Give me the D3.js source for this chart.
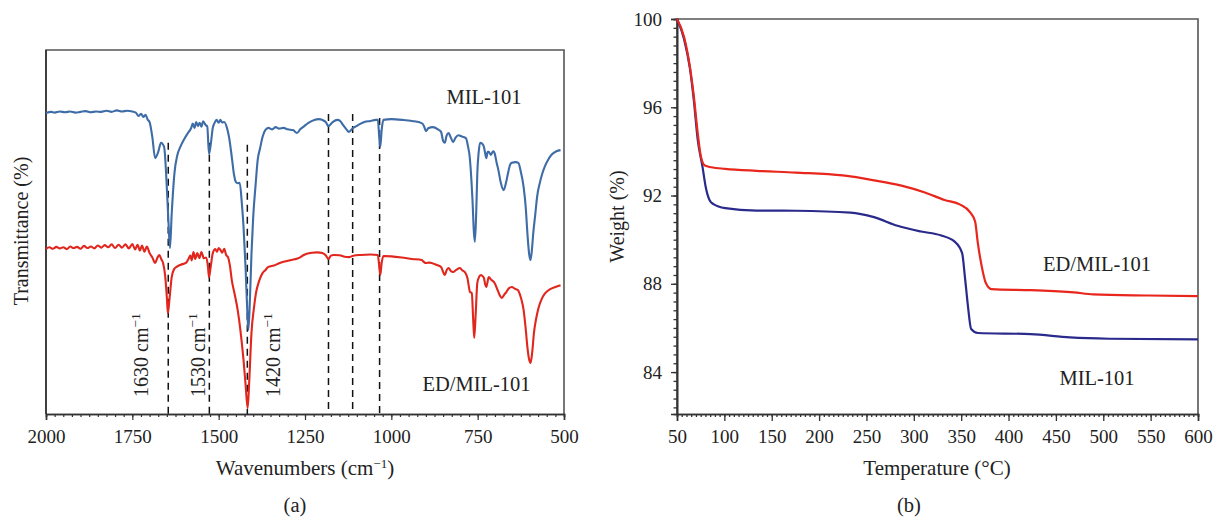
<!DOCTYPE html>
<html><head><meta charset="utf-8">
<script src="https://cdn.jsdelivr.net/npm/d3@7"></script>
<style>body{margin:0;background:#fff}svg{display:block}text{font-family:"Liberation Serif","Times New Roman",serif;fill:#222}</style>
</head><body><svg id="c" width="1215" height="517"></svg>
<script>
// ---------- DATA ----------
// FTIR (a): [wavenumber cm-1, transmittance (a.u.)]
const irMIL = [[2000,82.7],[1985,83.0],[1975,82.8],[1960,83.1],[1945,82.9],[1930,83.1],[1915,82.8],[1900,83.0],[1885,83.2],[1870,82.9],[1855,83.1],[1840,83.0],[1825,83.3],[1810,83.0],[1795,83.4],[1780,83.1],[1765,83.3],[1750,83.1],[1740,82.8],[1732,81.9],[1725,82.5],[1718,81.6],[1712,82.2],[1705,80.8],[1700,80.2],[1692,76],[1684,70.3],[1675,72],[1667,74.5],[1658,73.4],[1650,62],[1645,52],[1641,45.6],[1636,55],[1628,66.2],[1620,71],[1611,73.4],[1600,75.5],[1589,77.2],[1580,78.5],[1575,79.8],[1570,78.6],[1565,80.2],[1560,79.1],[1555,80.0],[1550,78.9],[1545,80.4],[1538,79.4],[1533,79.0],[1528,71.4],[1523,74],[1517,78.6],[1510,80.3],[1506,80.8],[1500,80.0],[1495,80.8],[1490,80.1],[1484,80.2],[1476,78.6],[1470,76.1],[1462,70.6],[1456,66],[1450,63.7],[1445,63.4],[1439,63.5],[1433,58],[1428,51.4],[1422,40],[1417,28],[1414,23.1],[1410,30],[1405,44],[1400,54.1],[1393,63],[1387,69.8],[1380,73],[1373,76.1],[1365,78],[1356,78.6],[1345,78.2],[1335,78.8],[1325,78.4],[1312,78.6],[1300,78.2],[1285,78.0],[1273,77.2],[1264,78.2],[1256,78.8],[1240,80.0],[1223,80.8],[1210,81.0],[1200,80.8],[1190,80.2],[1182,79.1],[1170,80.2],[1156,80.8],[1148,80.5],[1140,79.4],[1130,78.2],[1123,77.5],[1112,78.5],[1101,79.1],[1090,79.7],[1078,80.2],[1060,80.5],[1045,80.8],[1039,80.8],[1035,76],[1032,73.4],[1028,78],[1023,80.8],[1000,81.0],[967,80.8],[940,80.5],[912,79.9],[905,79],[900,77.7],[893,78.5],[880,78.8],[865,78.2],[856,77.5],[850,75],[845,74.5],[840,76.5],[834,77.2],[828,76],[821,74.7],[814,75.9],[806,76.6],[795,76.2],[784,75.8],[778,73.5],[773,70.6],[768,64],[765,58.8],[761,50],[758,47.3],[754,56],[751,66.2],[747,72],[743,74.5],[737,74.3],[732,73.4],[728,71.5],[725,70.3],[721,72],[718,72.0],[712,71.2],[705,72.2],[701,71.7],[695,69],[690,67.0],[683,63.5],[675,61.5],[668,63.5],[662,66.2],[656,68.5],[651,69.0],[640,69.2],[632,69.0],[625,66.5],[617,62.4],[611,57],[606,49.7],[601,44],[597,42.3],[593,45],[589,49.7],[583,55],[578,59.6],[570,63.5],[563,66],[556,67.9],[545,70.0],[534,71.4],[522,72.2],[510,72.5]];
const irED = [[2000,45.4],[1990,45.8],[1980,45.4],[1970,45.9],[1960,45.5],[1950,45.8],[1940,45.3],[1930,46.0],[1920,45.6],[1910,45.9],[1900,45.4],[1890,46.2],[1880,45.6],[1870,46.0],[1860,45.5],[1850,46.3],[1840,45.7],[1830,46.4],[1820,45.8],[1810,46.6],[1800,45.6],[1790,46.5],[1780,45.7],[1770,46.6],[1760,45.5],[1750,46.7],[1742,45.2],[1735,46.5],[1728,44.9],[1722,46.3],[1715,44.6],[1708,46.0],[1700,44.2],[1692,43.0],[1684,41.5],[1678,42.8],[1672,43.7],[1666,42.5],[1661,41.5],[1655,38],[1650,32],[1647,27.7],[1642,32],[1636,37.6],[1629,39.8],[1622,40.4],[1610,41.0],[1595,41.5],[1588,42.5],[1582,43.5],[1578,42.2],[1573,44.5],[1568,42.6],[1562,44.2],[1556,42.8],[1550,44.5],[1543,42.8],[1536,43.0],[1531,40.5],[1528,37.6],[1523,40.5],[1517,44.2],[1510,45.3],[1505,44.6],[1500,45.6],[1495,45.1],[1490,44.3],[1484,45.4],[1478,43.6],[1473,43.1],[1467,40.5],[1462,36.8],[1455,33.5],[1445,28.6],[1437,23],[1428,14.8],[1422,8],[1416,1.6],[1411,10],[1405,22.3],[1398,29],[1392,33.2],[1383,36.5],[1373,38.7],[1365,39.5],[1356,40.4],[1340,40.8],[1325,41.4],[1312,41.8],[1295,42.2],[1280,42.5],[1267,42.9],[1255,43.6],[1245,44.0],[1230,44.3],[1215,44.4],[1200,44.2],[1190,43.6],[1182,42.6],[1175,43.5],[1167,43.7],[1150,43.6],[1135,43.2],[1123,43.1],[1110,43.5],[1089,43.7],[1060,43.8],[1039,43.7],[1035,40.5],[1032,38.2],[1028,41.5],[1023,43.4],[1000,43.3],[970,43.0],[940,42.6],[912,42.3],[905,41.7],[900,41.5],[890,41.6],[870,41.0],[856,40.4],[850,39],[845,38.2],[840,39.5],[834,40.1],[828,39.3],[821,39.0],[812,39.6],[801,40.1],[795,39.5],[787,39.0],[780,37.5],[772,33.5],[767,33.2],[763,26],[760,20.9],[756,27],[751,36.0],[745,37.8],[740,38.2],[735,37.8],[732,37.4],[728,35.5],[725,34.9],[721,36.5],[718,37.6],[710,36.8],[701,36.0],[692,34],[685,32.4],[680,31.9],[673,32.8],[667,33.5],[660,34.5],[651,34.9],[642,34.4],[634,34.1],[625,32],[617,28.6],[611,23.5],[606,18.4],[601,15],[597,14.0],[592,17],[587,22.3],[580,26.5],[573,29.4],[565,31.5],[556,33.0],[551,33.5],[540,34.3],[525,34.9],[510,35.4]];
const irTicks = [2000,1750,1500,1250,1000,750,500];
const dashWave = [1646,1527,1417,1182,1112,1034];
const dashTop = [74.5,74.5,74,82.4,82.4,81.3];
const peakLabels = ["1630","1530","1420"];

// TGA (b): [temperature °C, weight %]
const tgaED = [[50,100],[57.4,99.2],[63.6,97.84],[67.8,96.48],[71.9,94.82],[75.2,93.77],[79.4,93.36],[86.4,93.28],[100.9,93.21],[133.9,93.12],[175.3,93.04],[224.9,92.91],[258,92.69],[286.9,92.45],[311.7,92.14],[332.4,91.8],[349,91.59],[359.3,91.25],[364.7,90.82],[367.6,89.84],[371.7,88.79],[375.8,88.06],[382,87.76],[423.4,87.71],[468.9,87.61],[489.5,87.52],[547.4,87.47],[600,87.44]];
const tgaMIL = [[50,100],[57.4,99.1],[63.6,97.77],[67.8,96.3],[71.9,94.52],[76.9,93.31],[80.2,92.41],[84.3,91.8],[88.5,91.61],[100.9,91.43],[133.9,91.32],[175.3,91.31],[233.2,91.23],[258,91.02],[282.8,90.63],[307.6,90.37],[328.3,90.2],[342.8,89.92],[351,89.39],[353.9,88.33],[357.2,86.97],[360.5,85.95],[367.6,85.77],[423.4,85.72],[464.7,85.57],[505.9,85.51],[600,85.48]];
const tgaXTicks = [50,100,150,200,250,300,350,400,450,500,550,600];
const tgaYTicks = [84,88,92,96,100];

// ---------- DRAW ----------
const svg = d3.select("#c");
const FS = 19, FL = 20.5, FT = 21;
const axisCol = "#333", frameCol = "#555";

function frame(x0,x1,y0,y1){
  svg.append("path").attr("d",`M${x0},${y1}L${x0},${y0}L${x1},${y0}L${x1},${y1}`)
    .attr("fill","none").attr("stroke",frameCol).attr("stroke-width",1.6);
}

// ===== Panel (a) =====
const xa = d3.scaleLinear().domain([2000,500]).range([46,564]);
const ya = d3.scaleLinear().domain([0,100]).range([414,50]);
frame(46,564,50,414);
const ga = svg.append("g").attr("transform","translate(0,414)");
ga.call(d3.axisBottom(xa).tickValues(d3.range(500,2001,25)).tickSize(3).tickFormat(""));
ga.append("g").call(d3.axisBottom(xa).tickValues(irTicks).tickSize(6).tickPadding(6).tickFormat(d3.format("d")));
ga.selectAll("path.domain").attr("stroke",axisCol).attr("stroke-width",1.6);
ga.selectAll(".tick line").attr("stroke",axisCol).attr("stroke-width",1.2);
ga.selectAll("text").attr("font-size",FS).attr("font-family","Liberation Serif").attr("fill","#222").attr("dy","0.9em");
svg.append("line").attr("x1",46).attr("x2",46).attr("y1",50).attr("y2",414).attr("stroke",axisCol).attr("stroke-width",1.6);

dashWave.forEach((w,i)=>{
  svg.append("line").attr("x1",xa(w)).attr("x2",xa(w)).attr("y1",ya(dashTop[i])).attr("y2",ya(0))
    .attr("stroke","#111").attr("stroke-width",1.5).attr("stroke-dasharray","7,5");
});

const lineA = d3.line().x(d=>xa(d[0])).y(d=>ya(d[1])).curve(d3.curveMonotoneX);
svg.append("path").datum(irMIL).attr("d",lineA).attr("fill","none").attr("stroke","#3e6ca6").attr("stroke-width",2.1).attr("stroke-linejoin","round");
svg.append("path").datum(irED).attr("d",lineA).attr("fill","none").attr("stroke","#e0261d").attr("stroke-width",2.1).attr("stroke-linejoin","round");

const peakX = [148,205,280];
peakLabels.forEach((t,i)=>{
  const tx = svg.append("text").attr("transform",`translate(${peakX[i]},397) rotate(-90)`).attr("font-size",20);
  tx.append("tspan").text(t+" cm");
  tx.append("tspan").attr("dy",-8).attr("font-size",13.5).text("\u22121");
});

svg.append("text").attr("x",484).attr("y",104).attr("text-anchor","middle").attr("font-size",FL).text("MIL-101");
svg.append("text").attr("x",476.5).attr("y",391).attr("text-anchor","middle").attr("font-size",FL).text("ED/MIL-101");

const tA = svg.append("text").attr("x",305).attr("y",475).attr("text-anchor","middle").attr("font-size",FT);
tA.append("tspan").text("Wavenumbers (cm");
tA.append("tspan").attr("dy",-7).attr("font-size",13).text("\u22121");
tA.append("tspan").attr("dy",7).text(")");
svg.append("text").attr("transform","translate(28,231) rotate(-90)").attr("text-anchor","middle").attr("font-size",20).text("Transmittance (%)");
svg.append("text").attr("x",295).attr("y",512).attr("text-anchor","middle").attr("font-size",FL).text("(a)");

// ===== Panel (b) =====
const xb = d3.scaleLinear().domain([50,600]).range([677,1198]);
const yb = d3.scaleLinear().domain([82.1,100]).range([414,19]);
frame(677,1198,19,414);
const gbx = svg.append("g").attr("transform","translate(0,414)");
gbx.call(d3.axisBottom(xb).tickValues(d3.range(50,601,5)).tickSize(3).tickFormat(""));
gbx.append("g").call(d3.axisBottom(xb).tickValues(tgaXTicks).tickSize(7).tickPadding(5).tickFormat(d3.format("d")));
const gby = svg.append("g").attr("transform","translate(677,0)");
gby.call(d3.axisLeft(yb).tickValues(d3.range(82.4,100.01,0.4)).tickSize(3.5).tickFormat(""));
gby.append("g").call(d3.axisLeft(yb).tickValues(tgaYTicks).tickSize(6).tickPadding(9).tickFormat(d3.format("d")));
[gbx,gby].forEach(g=>{
  g.selectAll("path.domain").attr("stroke",axisCol).attr("stroke-width",1.6);
  g.selectAll(".tick line").attr("stroke",axisCol).attr("stroke-width",1.3);
  g.selectAll("text").attr("font-size",FS).attr("font-family","Liberation Serif").attr("fill","#222");
});
gbx.selectAll("text").attr("dy","0.9em");

const lineB = d3.line().x(d=>xb(d[0])).y(d=>yb(d[1])).curve(d3.curveMonotoneX);
svg.append("path").datum(tgaMIL).attr("d",lineB).attr("fill","none").attr("stroke","#2a2a8c").attr("stroke-width",2.2);
svg.append("path").datum(tgaED).attr("d",lineB).attr("fill","none").attr("stroke","#e8261c").attr("stroke-width",2.2);

svg.append("text").attr("x",1097).attr("y",271).attr("text-anchor","middle").attr("font-size",FL).text("ED/MIL-101");
svg.append("text").attr("x",1097).attr("y",385).attr("text-anchor","middle").attr("font-size",FL).text("MIL-101");

svg.append("text").attr("x",937).attr("y",475).attr("text-anchor","middle").attr("font-size",FT).text("Temperature (\u00B0C)");
svg.append("text").attr("transform","translate(624,216.5) rotate(-90)").attr("text-anchor","middle").attr("font-size",20).text("Weight (%)");
svg.append("text").attr("x",909).attr("y",512).attr("text-anchor","middle").attr("font-size",FL).text("(b)");
</script></body></html>
